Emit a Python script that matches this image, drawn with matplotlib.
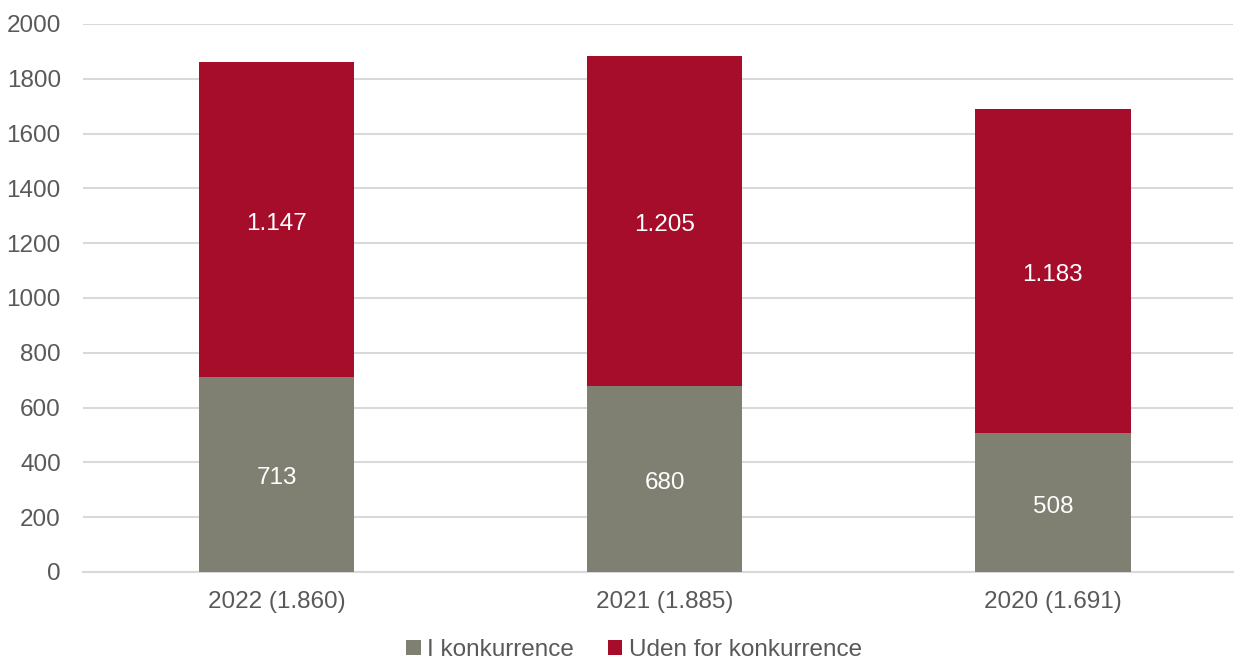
import matplotlib
matplotlib.use("Agg")
import matplotlib.pyplot as plt
import numpy as np

categories = ["2022 (1.860)", "2021 (1.885)", "2020 (1.691)"]
i_konkurrence = [713, 680, 508]
uden_for = [1147, 1205, 1183]
label_i = ["713", "680", "508"]
label_uden = ["1.147", "1.205", "1.183"]
yticks = [0, 200, 400, 600, 800, 1000, 1200, 1400, 1600, 1800, 2000]

plt.rcParams['font.family'] = ['Liberation Sans', 'DejaVu Sans']
W, H = 1237, 660
fig = plt.figure(figsize=(W/100, H/100), dpi=100)
ax = fig.add_axes([83/W, 1-572/H, (1233-83)/W, (572-24)/H])

gray = "#7f7f72"
red = "#a50d2b"
fs = 17.5
x = np.arange(len(categories))
b1 = ax.bar(x, i_konkurrence, width=0.4, color=gray, label="I konkurrence", zorder=3)
b2 = ax.bar(x, uden_for, width=0.4, bottom=i_konkurrence, color=red, label="Uden for konkurrence", zorder=3)

for xi, v, lab in zip(x, i_konkurrence, label_i):
    ax.annotate(lab, (xi, v/2), xytext=(0, -3), textcoords="offset points",
                ha="center", va="center", color="white", fontsize=fs, zorder=4)
for xi, b, v, lab in zip(x, i_konkurrence, uden_for, label_uden):
    ax.annotate(lab, (xi, b + v/2), xytext=(0, -3), textcoords="offset points",
                ha="center", va="center", color="white", fontsize=fs, zorder=4)

ax.set_xlim(-0.4987, 2.4639)
ax.set_ylim(0, 2000)
ax.set_yticks(yticks)
ax.set_yticklabels([str(t) for t in yticks])
ax.set_xticks(x)
ax.set_xticklabels(categories)
ax.tick_params(axis='both', length=0, labelsize=fs, colors="#595959")
ax.tick_params(axis='y', pad=16)
ax.tick_params(axis='x', pad=14)
ax.yaxis.grid(True, color="#d9d9d9", linewidth=1.5, zorder=0)
for s in ["top", "right", "left"]:
    ax.spines[s].set_visible(False)
ax.spines["bottom"].set_color("#d9d9d9")
ax.spines["bottom"].set_linewidth(1.5)

leg = fig.legend(handles=[b1, b2], loc="center", bbox_to_anchor=((618 + 16) / W, 1-650/H), ncol=2,
                 frameon=False, fontsize=fs, handlelength=0.6, handleheight=0.6,
                 handletextpad=0.25, columnspacing=1.4, borderpad=0.1)
for t in leg.get_texts():
    t.set_color("#595959")

fig.savefig("out.png", dpi=100)
